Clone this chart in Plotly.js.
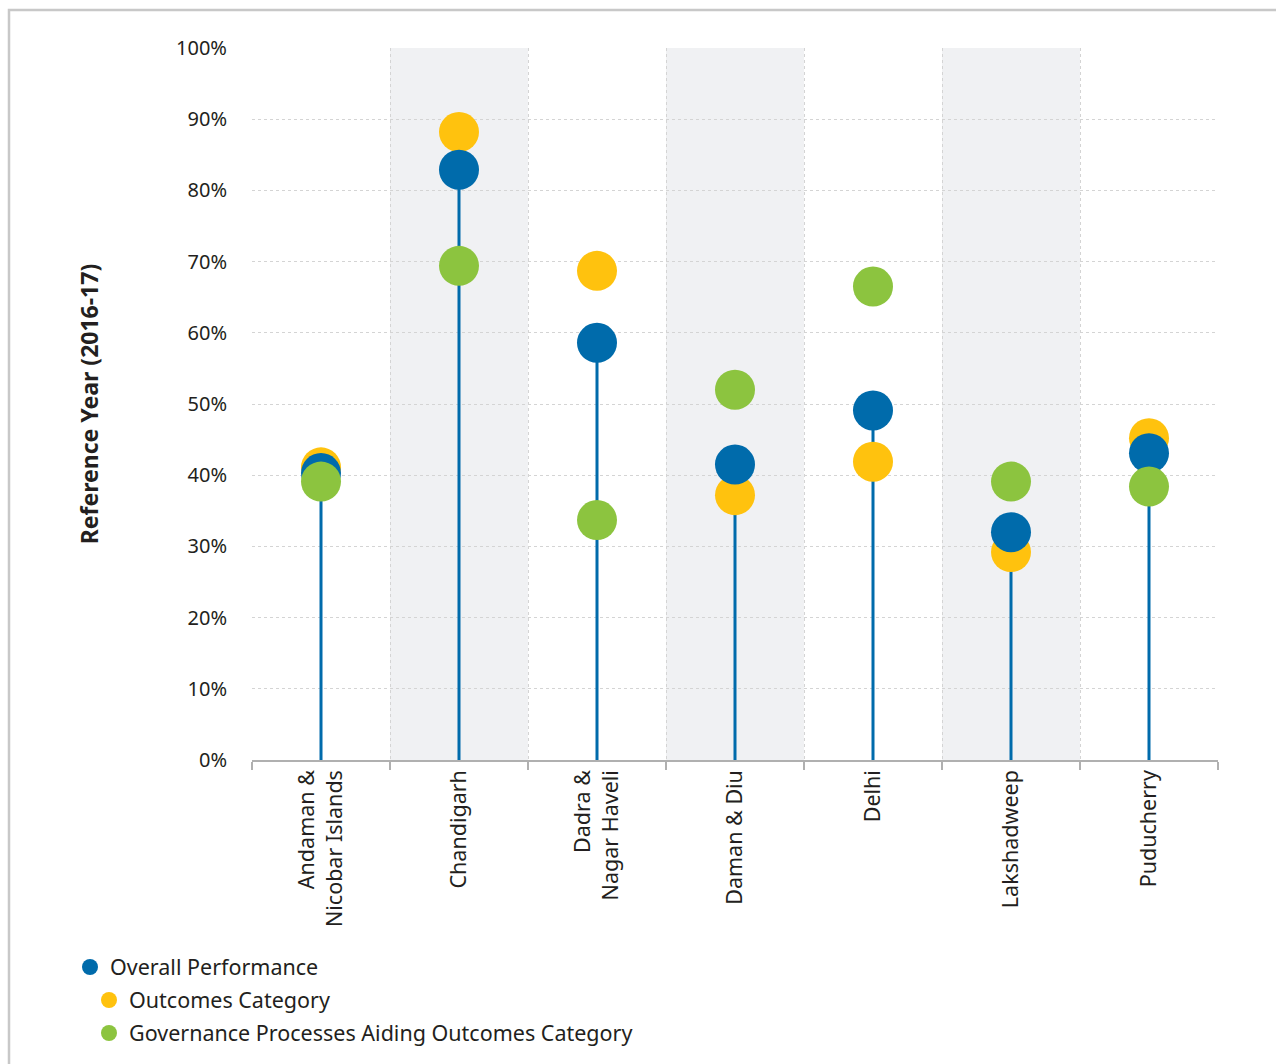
<!DOCTYPE html>
<html>
<head>
<meta charset="utf-8">
<script src="https://cdn.plot.ly/plotly-3.0.1.min.js"></script>
<style>
  html, body { margin: 0; padding: 0; background: #fff; }
  #chart { width: 1276px; height: 1064px; }
</style>
</head>
<body>
<div id="chart"></div>
<script>
const categories = [
  "Andaman &<br>Nicobar Islands",
  "Chandigarh",
  "Dadra &<br>Nagar Haveli",
  "Daman & Diu",
  "Delhi",
  "Lakshadweep",
  "Puducherry"
];
const overallPerformance = [40.3, 82.9, 58.6, 41.5, 49.1, 32.0, 43.1];
const outcomesCategory   = [41.1, 88.2, 68.7, 37.2, 41.9, 29.2, 45.2];
const governanceCategory = [39.1, 69.4, 33.7, 52.0, 66.5, 39.1, 38.4];
const yTickVals = [0, 10, 20, 30, 40, 50, 60, 70, 80, 90, 100];
const yTickText = yTickVals.map(v => v + "%");

const BLUE = "#006bab", YELLOW = "#ffc20e", GREEN = "#8cc43f";
const FONT = "'Noto Sans', 'Open Sans', sans-serif";
const TXT = "#231f20";

// stems from 0 to overall performance
const stemX = [], stemY = [];
categories.forEach((c, i) => { stemX.push(c, c, null); stemY.push(0, overallPerformance[i], null); });

const traces = [
  { x: stemX, y: stemY, mode: "lines", line: { color: BLUE, width: 3 }, showlegend: false, hoverinfo: "skip" },
  { x: categories, y: outcomesCategory, mode: "markers", name: "Outcomes Category",
    marker: { color: YELLOW, size: 40 }, legend: "legend2" },
  { x: categories, y: overallPerformance, mode: "markers", name: "Overall Performance",
    marker: { color: BLUE, size: 40 }, legend: "legend" },
  { x: categories, y: governanceCategory, mode: "markers", name: "Governance Processes Aiding Outcomes Category",
    marker: { color: GREEN, size: 40 }, legend: "legend3" }
];

const L = 252, T = 48, W = 966, H = 713;
const px = v => (v - L) / W;
const py = v => (T + H - v) / H;

const shapes = [];
categories.forEach((c, i) => {
  if (i % 2 === 1) {
    shapes.push({ type: "rect", xref: "x", yref: "paper", x0: i - 0.5, x1: i + 0.5, y0: 0, y1: 1,
      fillcolor: "#f0f1f3", line: { width: 0 }, layer: "below" });
  }
});
// outer frame
shapes.push({ type: "rect", xref: "paper", yref: "paper", x0: px(9), x1: px(1290), y0: py(1080), y1: py(10),
  line: { color: "#c8c8c8", width: 2.5 }, fillcolor: "rgba(0,0,0,0)", layer: "below" });

const legendBase = { orientation: "v", xanchor: "left", yanchor: "middle", bgcolor: "rgba(0,0,0,0)",
  font: { family: FONT, size: 21.5, color: TXT }, itemsizing: "trace" };

const layout = {
  width: 1276, height: 1064,
  margin: { l: L, r: 1276 - L - W, t: T, b: 1064 - T - H },
  paper_bgcolor: "#fff", plot_bgcolor: "rgba(0,0,0,0)",
  font: { family: FONT, size: 20, color: TXT },
  showlegend: true,
  legend: Object.assign({}, legendBase, { x: px(70), y: py(967) }),
  legend2: Object.assign({}, legendBase, { x: px(89), y: py(1000) }),
  legend3: Object.assign({}, legendBase, { x: px(89), y: py(1033) }),
  xaxis: {
    type: "category", categoryarray: categories, range: [-0.5, 6.5],
    tickson: "boundaries", ticks: "outside", ticklen: 8, tickcolor: "#b0b0b0", tickwidth: 1.5,
    showgrid: true, gridcolor: "#d4d4d4", griddash: "dot", gridwidth: 1,
    showline: true, linecolor: "#b0b0b0", linewidth: 1.5,
    tickangle: -90, tickfont: { family: FONT, size: 21.5, color: TXT },
    zeroline: false, fixedrange: true, automargin: false
  },
  yaxis: {
    range: [0, 100], tickvals: yTickVals, ticktext: yTickText,
    showgrid: true, gridcolor: "#d4d4d4", griddash: "dot", gridwidth: 1,
    zeroline: false, ticks: "", ticklabelstandoff: 24,
    tickfont: { family: FONT, size: 20, color: TXT },
    title: { text: "<b>Reference Year (2016-17)</b>", font: { family: FONT, size: 23, color: TXT }, standoff: 70 },
    fixedrange: true, automargin: false
  },
  shapes: shapes
};

Plotly.newPlot("chart", traces, layout, { displayModeBar: false, staticPlot: true });
</script>
</body>
</html>
